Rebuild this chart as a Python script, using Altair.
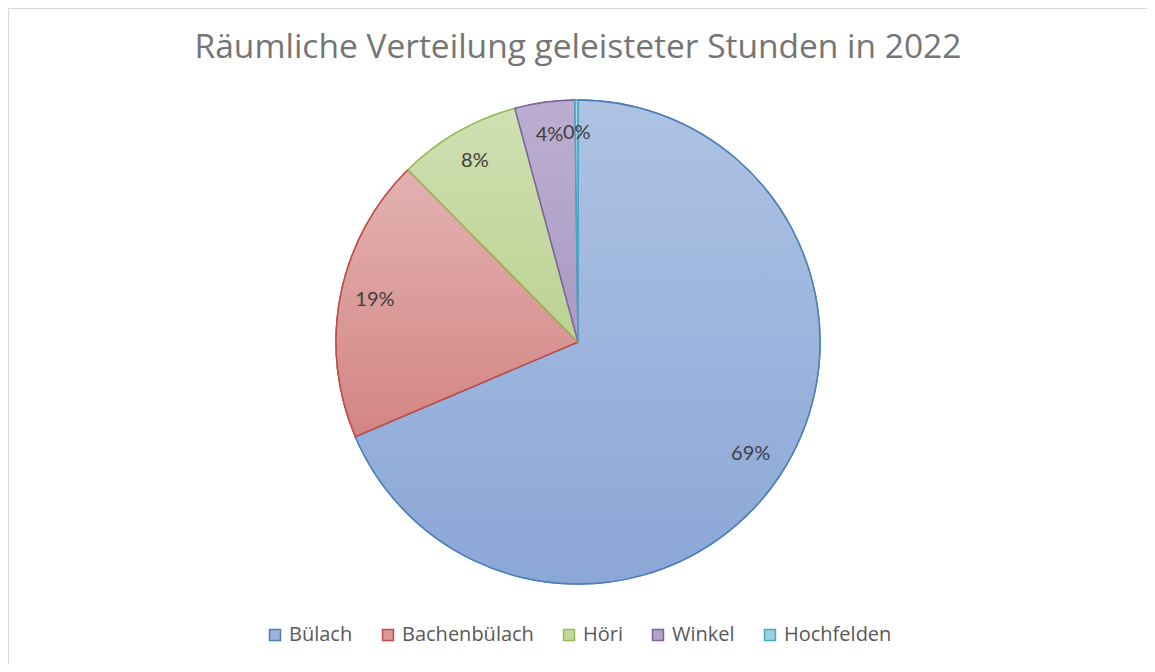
import altair as alt
import pandas as pd

title_text = "Räumliche Verteilung geleisteter Stunden in 2022"
categories = ["Bülach", "Bachenbülach", "Höri", "Winkel", "Hochfelden"]
values = [68.6, 19.0, 8.2, 4.0, 0.2]
order_idx = [0, 1, 2, 3, 4]

fill_colors = ["#9db3dc", "#db9896", "#c4d7a0", "#b3a3c8", "#9bd0e0"]
stroke_colors = ["#4a7ebb", "#be4b48", "#98b954", "#7d60a0", "#46aac5"]
grad_top = ["#aec3e3", "#e2b2b1", "#cfe0b2", "#bcaed1", "#a8d6e5"]
grad_bot = ["#8ba7d7", "#d38583", "#bcd293", "#ab9ac3", "#8ec9dc"]

df = pd.DataFrame({"cat": categories, "value": values, "idx": order_idx})
title_df = pd.DataFrame({"t": [title_text]})

CX, CY, R = 570, 334, 242

fill_scale = alt.Scale(domain=categories, range=fill_colors)
stroke_scale = alt.Scale(domain=categories, range=stroke_colors)

conds = []
for c, t, b in zip(categories, grad_top, grad_bot):
    conds.append({
        "test": f"datum.cat === '{c}'",
        "value": {
            "gradient": "linear", "x1": 0, "y1": 0, "x2": 0, "y2": 1,
            "stops": [{"offset": 0, "color": t}, {"offset": 1, "color": b}],
        },
    })

base = alt.Chart(df)

legend = alt.Legend(
    title=None, orient="none", direction="horizontal",
    legendX=257, legendY=617, symbolType="square", symbolSize=120,
    symbolStrokeWidth=1.5, labelFont="Open Sans", labelFontSize=20,
    labelColor="#595959", columnPadding=25, symbolOffset=0, labelOffset=4,
)

arcs = base.mark_arc(outerRadius=R, strokeWidth=1.5).encode(
    theta=alt.Theta("value:Q", stack=True),
    order=alt.Order("idx:Q"),
    fill=alt.Fill("cat:N", scale=fill_scale, legend=legend),
    stroke=alt.Stroke("cat:N", scale=stroke_scale, legend=legend),
    x=alt.value(CX), y=alt.value(CY),
)

grad_arcs = base.mark_arc(outerRadius=R, strokeWidth=1.5).encode(
    theta=alt.Theta("value:Q", stack=True),
    order=alt.Order("idx:Q"),
    fill={"condition": conds, "value": "#cccccc"},
    stroke=alt.Stroke("cat:N", scale=stroke_scale, legend=legend),
    x=alt.value(CX), y=alt.value(CY),
)

labels = base.transform_joinaggregate(total="sum(value)").transform_calculate(
    lbl="format(datum.value / datum.total, '.0%')"
).mark_text(radius=207, font="Lato", fontSize=20, color="#404040").encode(
    theta=alt.Theta("value:Q", stack=True),
    order=alt.Order("idx:Q"),
    text="lbl:N",
    x=alt.value(CX), y=alt.value(CY - 2),
)

title = alt.Chart(title_df).mark_text(
    font="Open Sans", fontSize=33.5, color="#757575", baseline="middle", align="center"
).encode(text="t:N", x=alt.value(CX), y=alt.value(40))

chart = alt.layer(arcs, grad_arcs, labels, title).properties(
    width=1139, height=656, padding=0
).configure_view(stroke="#d9d9d9", strokeWidth=1)

chart.save("out.html", embed_options={"renderer": "svg", "actions": False})
